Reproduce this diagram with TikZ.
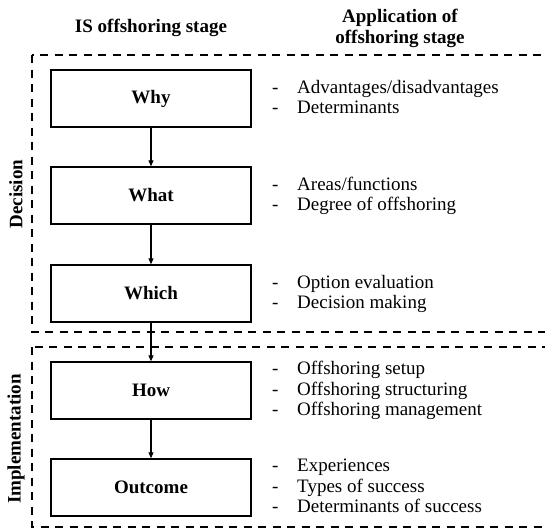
\documentclass[tikz,border=0pt]{standalone}
\usepackage{fontspec}
\setmainfont{Liberation Serif}
\usetikzlibrary{arrows.meta}
\begin{document}
\begin{tikzpicture}[x=1pt,y=-1pt,
  stagebox/.style={draw, line width=1.4pt, minimum width=200pt, minimum height=57pt,
    inner sep=0pt, font=\fontsize{19}{21}\selectfont\bfseries},
  phase/.style={draw, dash pattern=on 8pt off 6.5pt, line width=1.3pt},
  flow/.style={-{Triangle[length=6pt,width=5pt]}, line width=1.1pt},
  applist/.style={anchor=west, inner sep=0pt, font=\fontsize{19}{20.5}\selectfont},
  header/.style={font=\fontsize{19}{21}\selectfont\bfseries, align=center, inner sep=0pt},
  sidelabel/.style={rotate=90, inner sep=0pt, font=\fontsize{19}{21}\selectfont\bfseries}
]
\useasboundingbox (0,0) rectangle (545,528);

% column headers
\node[header] (hstage) at (151,28) {IS offshoring stage};
\node[header] (happ) at (400,28) {Application of\\offshoring stage};

% phase frames (open to the right)
\draw[phase] (32,55) rectangle (575,332);
\draw[phase] (32,347) rectangle (575,527);
\node[sidelabel] (ldec) at (16,194) {Decision};
\node[sidelabel] (limp) at (16,439) {Implementation};

% stages
\node[stagebox] (why) at (151,98.5) {Why};
\node[stagebox] (what) at (151,195.5) {What};
\node[stagebox] (which) at (151,293.5) {Which};
\node[stagebox] (how) at (151,390.5) {How};
\node[stagebox] (outcome) at (151,487.5) {Outcome};

\draw[flow] (why) -- (what);
\draw[flow] (what) -- (which);
\draw[flow] (which) -- (how);
\draw[flow] (how) -- (outcome);

% applications of each stage
\node[applist] (awhy) at (272,99.5) {\begin{tabular}{@{}l@{\hspace{18.7pt}}l@{}}
 -&Advantages/disadvantages\\ -&Determinants\end{tabular}};
\node[applist] (awhat) at (272,196.5) {\begin{tabular}{@{}l@{\hspace{18.7pt}}l@{}}
 -&Areas/functions\\ -&Degree of offshoring\end{tabular}};
\node[applist] (awhich) at (272,294.5) {\begin{tabular}{@{}l@{\hspace{18.7pt}}l@{}}
 -&Option evaluation\\ -&Decision making\end{tabular}};
\node[applist] (ahow) at (272,391) {\begin{tabular}{@{}l@{\hspace{18.7pt}}l@{}}
 -&Offshoring setup\\ -&Offshoring structuring\\ -&Offshoring management\end{tabular}};
\node[applist] (aout) at (272,488) {\begin{tabular}{@{}l@{\hspace{18.7pt}}l@{}}
 -&Experiences\\ -&Types of success\\ -&Determinants of success\end{tabular}};
\end{tikzpicture}
\end{document}
